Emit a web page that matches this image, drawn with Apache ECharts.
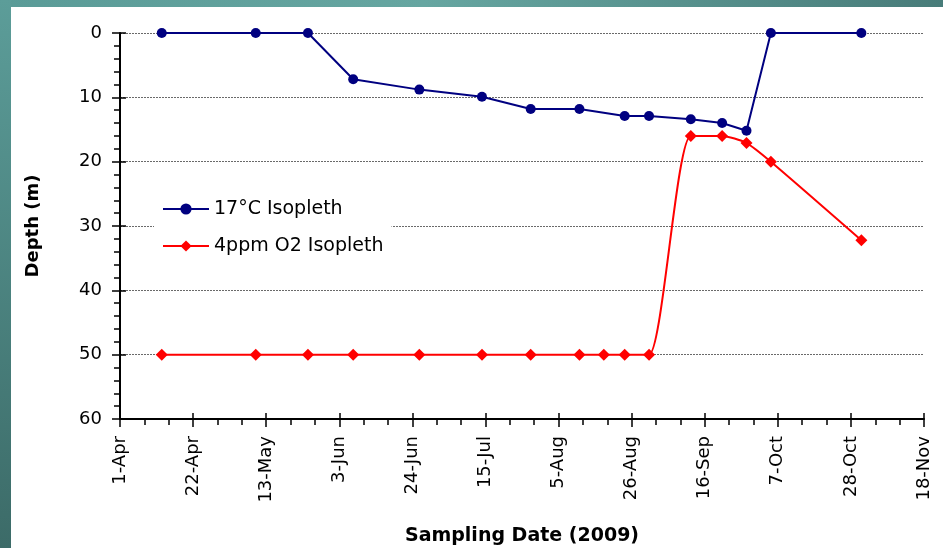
<!DOCTYPE html>
<html><head><meta charset="utf-8">
<script src="https://cdn.jsdelivr.net/npm/echarts@6/dist/echarts.min.js"></script>
<style>html,body{margin:0;padding:0;background:#fff}#c{width:943px;height:548px}</style>
</head><body><div id="c"></div>
<script>
const tickLabels = ['1-Apr','22-Apr','13-May','3-Jun','24-Jun','15-Jul','5-Aug','26-Aug','16-Sep','7-Oct','28-Oct','18-Nov'];
const blueName = '17°C Isopleth';
const redName = '4ppm O2 Isopleth';
const blueDates = ['2009-04-13','2009-05-10','2009-05-25','2009-06-07','2009-06-26','2009-07-14','2009-07-28','2009-08-11','2009-08-24','2009-08-31','2009-09-12','2009-09-21','2009-09-28','2009-10-05','2009-10-31'];
const blueDepth = [0,0,0,7.2,8.8,9.9,11.8,11.8,12.9,12.9,13.4,14.0,15.2,0,0];
const redDates = ['2009-04-13','2009-05-10','2009-05-25','2009-06-07','2009-06-26','2009-07-14','2009-07-28','2009-08-11','2009-08-18','2009-08-24','2009-08-31','2009-09-12','2009-09-21','2009-09-28','2009-10-05','2009-10-31'];
const redDepth = [50,50,50,50,50,50,50,50,50,50,50,16,16,17.1,20,32.2];

const start = Date.UTC(2009,3,1);
function dayOf(s){ const p=s.split('-').map(Number); return Math.round((Date.UTC(p[0],p[1]-1,p[2])-start)/86400000); }
const blueData = blueDates.map((d,i)=>[dayOf(d), blueDepth[i]]);
const redData = redDates.map((d,i)=>[dayOf(d), redDepth[i]]);

const FONT = 'DejaVu Sans';
const W = 943, H = 548;
const chart = echarts.init(document.getElementById('c'));
const tickStyle = {color:'#000', width:1.5};
chart.setOption({
  animation:false,
  backgroundColor:'#fff',
  textStyle:{fontFamily:FONT, color:'#000'},
  graphic:[
    {type:'rect', left:0, top:0, z:100, shape:{width:W,height:7},
     style:{fill:{type:'linear',x:0,y:0,x2:1,y2:0,colorStops:[{offset:0,color:'#5a9b97'},{offset:0.45,color:'#66a6a1'},{offset:1,color:'#487c79'}]}}},
    {type:'rect', left:0, top:0, z:100, shape:{width:11,height:H},
     style:{fill:{type:'linear',x:0,y:0,x2:0,y2:1,colorStops:[{offset:0,color:'#5c9d99'},{offset:1,color:'#3c6b68'}]}}}
  ],
  grid:{left:120, right:19, top:33, bottom:129, containLabel:false, outerBoundsMode:'none'},
  legend:{
    show:true, orient:'vertical', left:154, top:192,
    padding:[6,8,6,8], backgroundColor:'#fff', itemWidth:46, itemHeight:14, itemGap:15,
    textStyle:{fontFamily:FONT, fontSize:19, color:'#000', lineHeight:22},
    data:[blueName, redName]
  },
  xAxis:[{
    type:'value', min:0, max:231, interval:21, position:'bottom',
    name:'Sampling Date (2009)', nameLocation:'middle', nameGap:108,
    nameTextStyle:{fontFamily:FONT, fontSize:19, fontWeight:'bold', color:'#000'},
    axisLine:{show:true, onZero:false, lineStyle:{color:'#000', width:2}},
    axisTick:{show:true, inside:false, length:8, lineStyle:tickStyle},
    minorTick:{show:true, splitNumber:3, length:6, lineStyle:tickStyle},
    axisLabel:{rotate:90, margin:17, fontFamily:FONT, fontSize:18, color:'#000',
      formatter:(v)=>tickLabels[Math.round(v/21)]},
    splitLine:{show:false}
  },{
    type:'value', min:0, max:231, interval:21, position:'bottom', offset:0,
    axisLine:{show:false, onZero:false}, axisTick:{show:true, inside:true, length:6, lineStyle:tickStyle},
    axisLabel:{show:false}, splitLine:{show:false}
  }],
  yAxis:[{
    type:'value', inverse:true, min:0, max:60, interval:10, position:'left',
    name:'Depth (m)', nameLocation:'middle', nameGap:78,
    nameTextStyle:{fontFamily:FONT, fontSize:18, fontWeight:'bold', color:'#000'},
    axisLine:{show:true, onZero:false, lineStyle:{color:'#000', width:2}},
    axisTick:{show:true, inside:false, length:8, lineStyle:tickStyle},
    minorTick:{show:true, splitNumber:5, length:6, lineStyle:tickStyle},
    axisLabel:{margin:18, fontFamily:FONT, fontSize:18, color:'#000'},
    splitLine:{show:true, lineStyle:{color:'#6a6a6a', type:[2,1], width:1}}
  },{
    type:'value', inverse:true, min:0, max:60, interval:10, position:'left', offset:0,
    axisLine:{show:false, onZero:false}, axisTick:{show:true, inside:true, length:6, lineStyle:tickStyle},
    axisLabel:{show:false}, splitLine:{show:false}
  }],
  series:[{
    name:blueName, type:'line', data:blueData, xAxisIndex:0, yAxisIndex:0,
    symbol:'circle', symbolSize:10, color:'#000080',
    lineStyle:{color:'#000080', width:2}, itemStyle:{color:'#000080'}, z:3
  },{
    name:redName, type:'line', data:redData, xAxisIndex:0, yAxisIndex:0,
    symbol:'diamond', symbolSize:12, smooth:0.22, color:'#ff0000',
    lineStyle:{color:'#ff0000', width:2}, itemStyle:{color:'#ff0000'}, z:2
  }]
});
</script></body></html>
